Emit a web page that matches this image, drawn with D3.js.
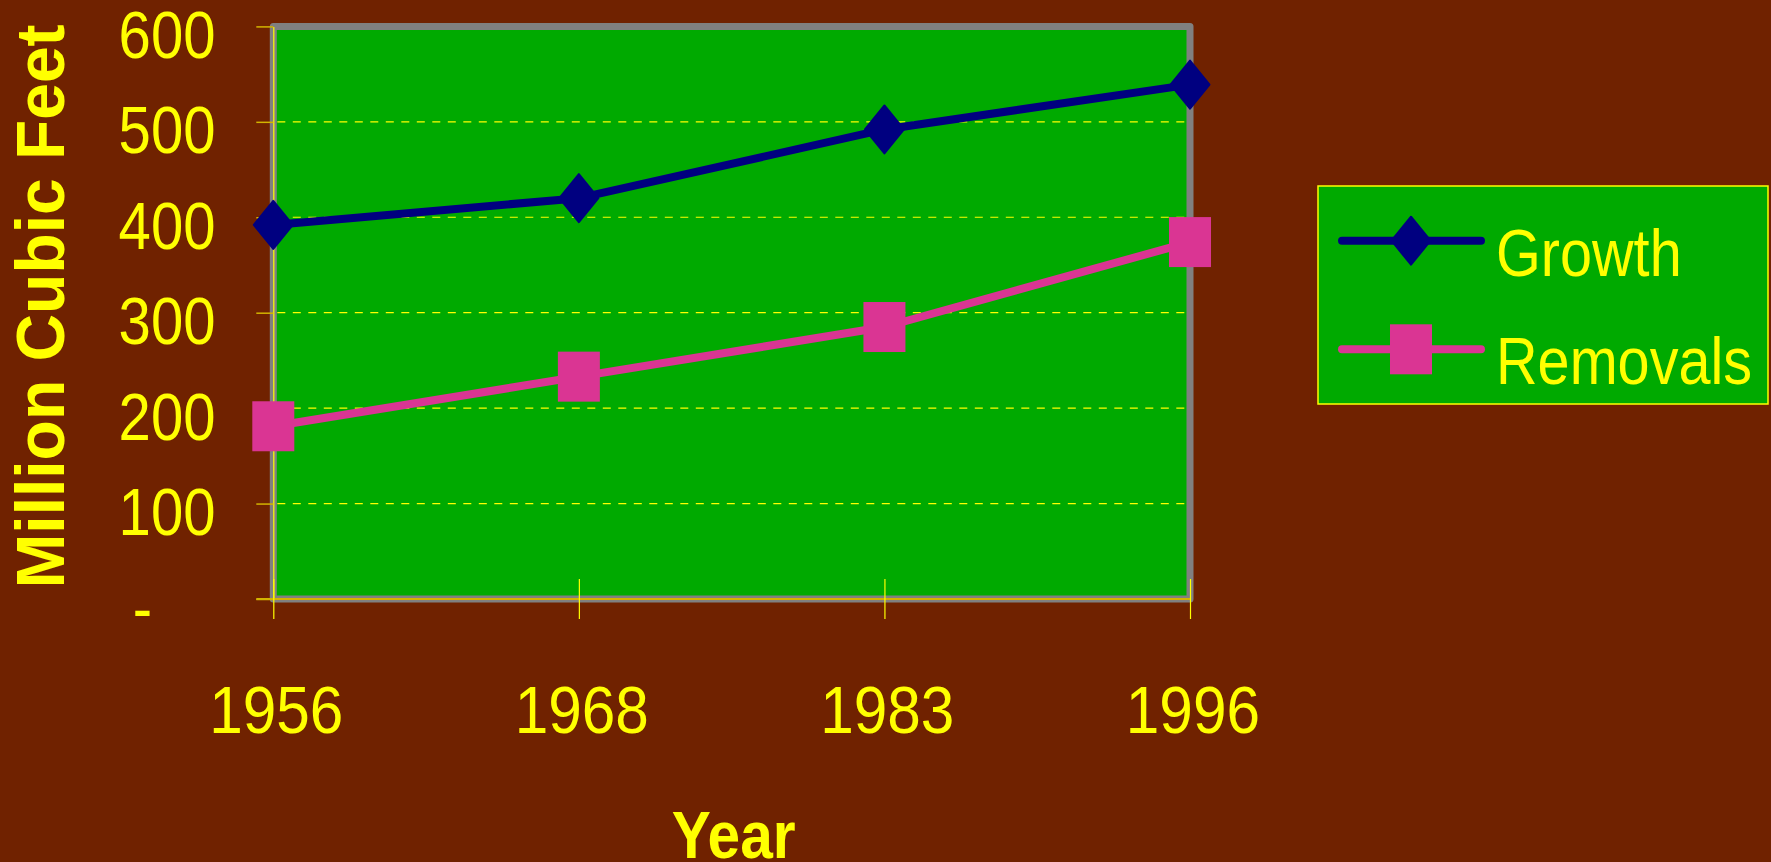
<!DOCTYPE html>
<html>
<head>
<meta charset="utf-8">
<script src="https://cdn.jsdelivr.net/npm/d3@7/dist/d3.min.js"></script>
<style>
  html, body { margin: 0; padding: 0; background: #702200; overflow: hidden; }
  svg { display: block; }
  text { font-family: "Liberation Sans", Arial, sans-serif; fill: #FFFF00; }
</style>
</head>
<body>
<svg id="chart" width="1771" height="862"></svg>
<script>
// ---- data ----
const years = ["1956", "1968", "1983", "1996"];
const growth = [392, 420, 492, 539];
const removals = [181, 233, 285, 374];
const seriesNames = ["Growth", "Removals"];
const yTicks = [0, 100, 200, 300, 400, 500, 600];
const yTickLabels = ["-", "100", "200", "300", "400", "500", "600"];
const yTitle = "Million Cubic Feet";
const xTitle = "Year";

// ---- styles ----
const BG = "#702200", PLOT = "#00AA00", YELLOW = "#FFFF00", GOLD = "#D2B400";
const BLUE = "#000080", PINK = "#DA3593";

const svg = d3.select("#chart");
svg.append("rect").attr("width", 1771).attr("height", 862).attr("fill", BG);

const x = d3.scalePoint().domain(years).range([273.3, 1190]);
const y = d3.scaleLinear().domain([0, 600]).range([599, 26.4]);

// plot area
const [x0, x1] = x.range();
svg.append("rect")
  .attr("x", x0).attr("y", y(600))
  .attr("width", x1 - x0).attr("height", y(0) - y(600))
  .attr("fill", PLOT).attr("stroke", "#808080").attr("stroke-width", 7)
  .attr("stroke-linejoin", "round");

// gridlines
svg.append("g").selectAll("line")
  .data(yTicks.filter(v => v > 0 && v < 600))
  .join("line")
  .attr("x1", x0 + 4).attr("x2", x1 - 4)
  .attr("y1", d => y(d)).attr("y2", d => y(d))
  .attr("stroke", YELLOW).attr("stroke-width", 1.2)
  .attr("stroke-dasharray", "8,7.5");

// y axis
const yAxis = svg.append("g")
  .attr("transform", `translate(${x0},0)`)
  .call(d3.axisLeft(y).tickValues(yTicks).tickSize(17).tickSizeOuter(0)
    .tickFormat((d, i) => yTickLabels[i]));
yAxis.select(".domain").attr("stroke", YELLOW).attr("stroke-width", 1.2);
yAxis.selectAll(".tick line").attr("stroke", GOLD).attr("stroke-width", 1.5);
yAxis.selectAll(".tick text")
  .attr("x", null).attr("dy", null).attr("fill", YELLOW)
  .style("font-size", "66px")
  .attr("text-anchor", (d, i) => yTickLabels[i] === "-" ? "middle" : "end")
  .attr("transform", (d, i) => yTickLabels[i] === "-"
      ? `translate(${142.5 - x0},31) scale(0.88,1)`
      : `translate(${215.5 - x0},31) scale(0.88,1)`);

// x axis
const xAxis = svg.append("g")
  .attr("transform", `translate(0,${y(0)})`)
  .call(d3.axisBottom(x).tickSize(20).tickSizeOuter(0));
xAxis.select(".domain").attr("stroke", GOLD).attr("stroke-width", 2)
  .attr("d", `M${x0 - 17},0H${x1}`);
xAxis.selectAll(".tick line").attr("y1", -20).attr("y2", 20)
  .attr("stroke", YELLOW).attr("stroke-width", 1.2);
xAxis.selectAll(".tick text")
  .attr("y", null).attr("dy", null).attr("fill", YELLOW)
  .style("font-size", "67px")
  .attr("text-anchor", "middle")
  .attr("transform", "translate(2.4,134) scale(0.9,1)");

// axis titles
svg.append("text")
  .attr("transform", `translate(64,306.5) rotate(-90) scale(0.97,1)`)
  .attr("text-anchor", "middle")
  .style("font-size", "68px").style("font-weight", "bold")
  .text(yTitle);
svg.append("text")
  .attr("transform", `translate(${(x0 + x1) / 2 + 2},858) scale(0.875,1)`)
  .attr("text-anchor", "middle")
  .style("font-size", "67px").style("font-weight", "bold")
  .text(xTitle);

// series
const line = d3.line().x(d => x(d[0])).y(d => y(d[1]));
const diamond = "M0,-24 L19.5,0 L0,24 L-19.5,0 Z";
function drawSeries(values, color, marker) {
  const pts = years.map((yr, i) => [yr, values[i]]);
  svg.append("path").datum(pts).attr("d", line)
    .attr("fill", "none").attr("stroke", color).attr("stroke-width", 8)
    .attr("stroke-linejoin", "round");
  const g = svg.append("g").selectAll("g").data(pts).join("g")
    .attr("transform", d => `translate(${x(d[0])},${y(d[1])})`);
  drawMarker(g, color, marker);
}
function drawMarker(g, color, marker) {
  if (marker === "diamond") {
    g.append("path").attr("d", diamond).attr("fill", color)
      .attr("stroke", color).attr("stroke-width", 2).attr("stroke-linejoin", "round");
  } else {
    g.append("rect").attr("x", -21).attr("y", -25).attr("width", 42).attr("height", 50)
      .attr("fill", color);
  }
}
drawSeries(growth, BLUE, "diamond");
drawSeries(removals, PINK, "square");

// legend
const lg = svg.append("g");
lg.append("rect").attr("x", 1318).attr("y", 186).attr("width", 450).attr("height", 218)
  .attr("fill", PLOT).attr("stroke", YELLOW).attr("stroke-width", 1.5);
const legendItems = [
  { name: seriesNames[0], color: BLUE, marker: "diamond", cy: 240.7, base: 276 },
  { name: seriesNames[1], color: PINK, marker: "square", cy: 349.3, base: 384.3 }
];
legendItems.forEach(it => {
  lg.append("line").attr("x1", 1342).attr("x2", 1481).attr("y1", it.cy).attr("y2", it.cy)
    .attr("stroke", it.color).attr("stroke-width", 8).attr("stroke-linecap", "round");
  const mg = lg.append("g").attr("transform", `translate(1411,${it.cy})`);
  drawMarker(mg, it.color, it.marker);
  lg.append("text").attr("transform", `translate(1496,${it.base}) scale(0.86,1)`)
    .style("font-size", "67px").text(it.name);
});
</script>
</body>
</html>
